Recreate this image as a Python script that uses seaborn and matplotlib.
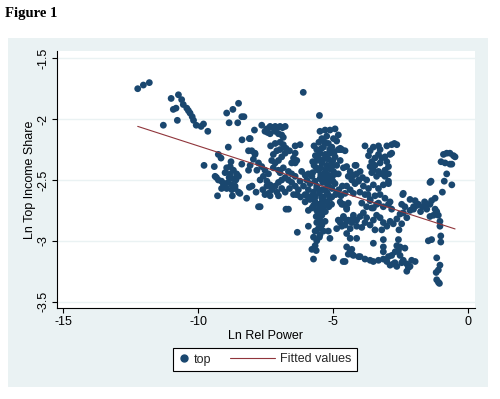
import numpy as np
import pandas as pd
import matplotlib
matplotlib.use("Agg")
import matplotlib.pyplot as plt
import seaborn as sns
from matplotlib.patches import Rectangle
from matplotlib.lines import Line2D
from matplotlib.legend_handler import HandlerBase

sns.set_theme(style="white")
plt.rcParams['font.family'] = ['Liberation Sans', 'DejaVu Sans']

# ---- data (Ln Rel Power, Ln Top Income Share) ----
rel_power = [
    -12.24, -12.03, -11.81, -11.29,
    -11.00, -10.73, -10.61, -10.55, -10.42, -10.36, -10.30, -10.22, -10.17, -10.07, -9.89, -9.80, -9.64, -10.92, -10.82, -10.77,
    -8.94, -8.71, -8.50, -8.85, -8.53, -8.38, -8.30, -8.37, -8.10, -7.91, -8.88, -9.25, -9.15, -9.78, -9.40, -5.50, -6.10,
    -7.64, -7.45, -7.33, -7.14, -6.96, -6.77, -7.52, -7.33, -7.14, -7.02, -6.90, -6.84, -8.07, -7.24, -7.05, -6.87, -7.42,
    -7.31, -7.14, -6.96, -6.84, -6.74, -6.77, -6.90, -7.02, -7.14, -7.27, -7.21, -7.08, -6.96, -6.61, -6.46, -6.53, -6.34, -6.22, -6.40,
    -8.01, -7.89, -7.95, -7.76, -7.64, -7.52, -7.39, -7.58, -7.70, -7.45, -7.33, -7.82, -7.21, -8.07, -8.13,
    -6.16, -6.03, -5.91, -5.78, -5.97, -5.85, -5.66, -6.09, -5.91, -5.72, -5.60, -6.03, -5.78, -6.22,
    -5.48, -5.29, -5.11, -4.92, -4.80, -5.41, -5.23, -4.98, -4.86, -5.17, -5.04, -5.35, -5.60, -5.48, -5.29, -5.11, -4.92, -4.80,
    -4.73, -5.60, -5.41, -5.23, -5.04, -4.86, -5.54, -5.35, -5.17, -4.98, -4.80, -5.48, -5.29, -5.11, -4.92, -5.60, -5.41, -5.23,
    -5.04, -4.86, -5.35, -5.11, -4.67, -4.55, -4.61, -4.49, -4.36, -4.24, -4.12, -4.43, -4.30, -4.18, -4.05, -4.49, -4.36, -4.24, -4.55,
    -5.54, -5.35, -5.17, -5.00, -5.45, -5.27, -5.10, -5.38, -5.20, -5.02, -5.52, -5.30, -5.12, -5.65, -5.70, -5.75,
    -4.73, -4.14, -3.81,
    -7.70, -6.74, -6.65, -7.52, -7.33, -7.02, -6.34, -5.91, -5.78, -5.91, -6.32, -5.66, -5.54, -5.48, -5.41, -5.48, -5.60, -5.54,
    -5.66, -5.72, -5.60, -5.66, -5.78, -5.48, -5.35, -5.41, -5.29, -5.17, -5.72, -5.11, -4.98, -4.55, -4.73, -4.61, -4.49, -4.43,
    -4.80, -4.73, -4.67, -4.86, -4.61, -4.49, -4.36, -4.24, -4.12, -4.36, -4.12, -4.30, -4.43, -4.24, -4.05, -5.97, -5.85, -6.03,
    -5.72, -5.60, -5.41, -5.23, -5.04,
    -5.55, -5.45, -5.62, -5.35, -5.50, -5.62,
    -9.37, -9.25, -9.13, -9.00, -8.88, -8.75, -8.63, -8.94, -8.81, -8.69, -8.57, -8.50, -8.81, -8.69, -8.94, -8.75, -8.63, -8.50,
    -8.45, -9.06, -9.13, -9.28, -8.73, -8.20, -8.10, -8.38, -8.13, -7.89, -7.76, -9.32, -8.85, -8.60, -8.78, -9.00,
    -3.62, -3.50, -3.31, -3.25, -3.31, -3.44, -3.56, -3.62, -3.50, -3.31, -3.19, -3.07, -2.94, -3.00, -3.07, -3.19, -3.25, -2.94,
    -2.88, -3.00, -2.82, -2.63, -2.82, -3.44, -3.38, -3.07, -2.94, -3.68, -3.56,
    -0.90, -0.78, -0.66, -0.53, -0.99, -0.84, -0.66, -0.78, -0.87, -0.59, -0.94, -1.36, -0.47, -0.59, -2.72,
    -2.39, -2.14, -1.95, -1.83, -1.52, -1.34, -1.21, -2.33, -2.01,
    -4.18, -3.99, -4.05, -3.87, -3.68, -3.50, -3.31, -3.13, -2.94, -3.81, -3.62, -3.44, -3.25, -3.07, -2.88, -3.93, -3.75, -3.56, -3.38,
    -4.67, -4.49, -4.61, -4.43, -4.55, -4.30, -4.12, -4.24, -3.99, -3.87, -3.75, -3.81, -3.93, -3.62, -3.50, -3.38, -3.25, -3.13,
    -3.19, -3.44, -3.00, -2.88, -2.76, -2.63, -2.51, -2.39, -2.26, -2.14, -2.01, -1.89, -2.94, -2.82, -3.13, -3.31, -3.50, -3.62,
    -4.49, -3.50, -3.13, -3.13, -3.13, -2.57, -2.45, -4.49, -4.36, -4.30, -3.99, -3.81, -3.62, -3.50, -3.31, -3.13, -2.94, -2.82,
    -2.69, -2.57, -2.51, -2.39, -2.26, -2.14, -2.26, -2.08, -1.95, -2.76, -2.63, -2.88, -3.00, -4.62, -1.46, -1.34, -1.15, -1.09,
    -1.03, -1.03, -1.00, -1.00, -1.15, -1.03, -1.09, -1.17, -1.09, -1.21, -1.27, -1.40, -1.40, -1.52, -1.40, -1.58, -1.05, -1.15,
    -2.41, -2.63, -2.51, -2.33, -2.45, -2.20, -2.70, -1.60, -1.68, -1.75, -2.45, -2.55,
    -7.45, -7.27, -7.14, -7.02, -6.90, -6.77, -6.65, -6.53, -6.61, -6.77, -6.90, -7.08, -6.40, -6.28, -6.46, -6.20, -6.96, -6.84,
    -7.02, -6.65, -6.53, -6.40, -7.60, -7.39, -8.00, -7.85,
    -4.90, -4.78, -4.65, -4.70, -4.00, -3.90, -3.75, -3.70,
    -5.70, -5.75, -5.62, -5.45, -5.28, -5.15, -5.00, -5.50, -5.30, -5.18, -5.40, -5.28, -5.15, -5.05, -5.42, -5.20, -4.95, -5.05,
    -4.90, -5.65, -6.40, -6.40, -6.34, -4.73,
]
top_share = [
    -1.75, -1.72, -1.70, -2.05,
    -1.83, -1.80, -1.84, -1.88, -1.91, -1.93, -1.95, -1.98, -2.01, -2.05, -2.06, -2.04, -2.10, -1.92, -1.91, -2.01,
    -1.95, -1.92, -1.87, -2.03, -2.03, -1.98, -1.98, -2.17, -2.16, -2.09, -2.23, -2.29, -2.32, -2.38, -2.39, -1.97, -1.78,
    -2.05, -2.08, -2.06, -2.06, -2.06, -2.06, -2.10, -2.12, -2.10, -2.12, -2.13, -2.15, -2.16, -2.07, -2.07, -2.07, -2.11,
    -2.22, -2.20, -2.19, -2.21, -2.24, -2.28, -2.31, -2.34, -2.36, -2.34, -2.29, -2.26, -2.25, -2.26, -2.32, -2.36, -2.34, -2.21, -2.22,
    -2.26, -2.29, -2.33, -2.36, -2.39, -2.42, -2.45, -2.47, -2.50, -2.51, -2.54, -2.42, -2.40, -2.38, -2.26,
    -2.43, -2.46, -2.45, -2.47, -2.50, -2.53, -2.51, -2.55, -2.58, -2.60, -2.57, -2.62, -2.63, -2.51,
    -2.10, -2.09, -2.09, -2.08, -2.13, -2.16, -2.14, -2.16, -2.18, -2.20, -2.23, -2.23, -2.25, -2.28, -2.29, -2.28, -2.31, -2.25,
    -2.34, -2.34, -2.36, -2.38, -2.39, -2.38, -2.42, -2.45, -2.46, -2.43, -2.45, -2.49, -2.51, -2.50, -2.53, -2.55, -2.58, -2.60,
    -2.57, -2.60, -2.64, -2.65, -2.25, -2.26, -2.40, -2.39, -2.43, -2.46, -2.45, -2.47, -2.50, -2.53, -2.51, -2.55, -2.58, -2.61, -2.61,
    -2.32, -2.33, -2.33, -2.34, -2.40, -2.42, -2.41, -2.52, -2.54, -2.47, -2.19, -2.19, -2.25, -2.30, -2.38, -2.44,
    -2.24, -2.38, -2.22,
    -2.72, -2.74, -2.74, -2.62, -2.63, -2.63, -2.62, -2.75, -2.73, -2.88, -2.93, -2.68, -2.70, -2.74, -2.79, -2.83, -2.85, -2.90,
    -2.92, -2.97, -3.00, -3.04, -3.07, -2.95, -2.92, -2.87, -2.84, -2.92, -3.15, -2.98, -3.14, -3.17, -2.68, -2.70, -2.73, -2.69,
    -2.83, -2.85, -2.88, -2.90, -2.81, -2.84, -2.90, -2.81, -2.88, -2.98, -2.98, -3.07, -3.11, -3.12, -3.13, -2.63, -2.66, -2.68,
    -2.71, -2.75, -2.65, -2.68, -2.64,
    -2.78, -2.88, -2.80, -2.72, -2.97, -3.08,
    -2.47, -2.50, -2.51, -2.53, -2.52, -2.54, -2.55, -2.40, -2.39, -2.42, -2.45, -2.47, -2.45, -2.49, -2.57, -2.58, -2.57, -2.60,
    -2.61, -2.54, -2.57, -2.63, -2.63, -2.65, -2.56, -2.37, -2.42, -2.28, -2.72, -2.48, -2.48, -2.50, -2.35, -2.44,
    -2.26, -2.23, -2.22, -2.25, -2.29, -2.32, -2.35, -2.39, -2.42, -2.43, -2.45, -2.42, -2.39, -2.35, -2.31, -2.32, -2.36, -2.45,
    -2.29, -2.22, -2.21, -2.21, -2.28, -2.38, -2.47, -2.47, -2.51, -2.30, -2.44,
    -2.29, -2.28, -2.28, -2.30, -2.35, -2.36, -2.37, -2.45, -2.51, -2.54, -2.60, -2.51, -2.31, -2.37, -2.20,
    -2.61, -2.66, -2.67, -2.70, -2.70, -2.67, -2.65, -2.72, -2.72,
    -2.38, -2.43, -2.50, -2.55, -2.57, -2.54, -2.57, -2.54, -2.53, -2.62, -2.66, -2.63, -2.62, -2.65, -2.68, -2.69, -2.72, -2.73, -2.70,
    -2.70, -2.74, -2.80, -2.83, -2.87, -2.85, -2.83, -2.79, -2.80, -2.77, -2.81, -2.85, -2.89, -2.87, -2.83, -2.79, -2.81, -2.85,
    -2.91, -2.91, -2.88, -2.84, -2.86, -2.82, -2.78, -2.77, -2.81, -2.75, -2.74, -2.71, -2.70, -2.74, -2.72, -2.69, -2.73, -2.67,
    -2.94, -3.02, -2.99, -3.05, -3.09, -2.99, -2.70, -3.05, -3.08, -3.11, -3.13, -3.15, -3.16, -3.17, -3.16, -3.15, -3.13, -3.12,
    -3.09, -3.08, -3.12, -3.16, -3.19, -3.21, -3.25, -3.16, -3.17, -3.19, -3.21, -3.20, -3.17, -3.17, -3.00, -2.99, -2.76, -2.79,
    -2.84, -2.88, -2.96, -3.01, -3.14, -3.20, -3.24, -3.26, -3.34, -2.74, -2.79, -2.80, -2.70, -2.74, -2.52, -2.69, -3.35, -3.32,
    -2.62, -3.04, -3.05, -3.06, -3.18, -3.22, -3.18, -2.68, -2.72, -2.76, -2.86, -2.91,
    -2.55, -2.58, -2.55, -2.52, -2.50, -2.48, -2.50, -2.52, -2.57, -2.60, -2.57, -2.60, -2.55, -2.58, -2.62, -2.64, -2.44, -2.40,
    -2.42, -2.43, -2.45, -2.47, -2.58, -2.61, -2.55, -2.60,
    -2.62, -2.58, -2.55, -2.63, -2.60, -2.48, -2.50, -2.62,
    -2.22, -2.35, -2.40, -2.46, -2.47, -2.55, -2.51, -2.61, -2.58, -2.62, -2.68, -2.76, -2.72, -2.70, -2.24, -2.29, -2.27, -2.35,
    -2.45, -2.64, -2.28, -2.36, -2.62, -2.25,
]

# fitted line: y = intercept + slope * x
fit_intercept = -2.936
fit_slope = -0.0716

x_ticks = [-15, -10, -5, 0]
x_tick_labels = ["-15", "-10", "-5", "0"]
y_ticks = [-1.5, -2, -2.5, -3, -3.5]
y_tick_labels = ["-1.5", "-2", "-2.5", "-3", "-3.5"]

navy = "#1A476F"
maroon = "#90353B"
bg = "#EAF2F3"

df = pd.DataFrame({"x": rel_power, "y": top_share})
fit_x = np.array([min(rel_power), max(rel_power)])
fit_df = pd.DataFrame({"x": fit_x, "y": fit_intercept + fit_slope * fit_x})

fig = plt.figure(figsize=(5.0, 3.99), dpi=100)
fig.patch.set_facecolor("white")
fig.patches.append(Rectangle((8 / 500, 1 - 387 / 399), 480 / 500, 349 / 399,
                             transform=fig.transFigure, facecolor=bg,
                             edgecolor="none", zorder=-10))

ax = fig.add_axes([0.1134, 0.2281, 0.8366, 0.6449])
ax.set_zorder(1)
ax.set_facecolor("white")

sns.scatterplot(data=df, x="x", y="y", ax=ax, color=navy, s=24,
                edgecolor="none", linewidth=0, legend=False, zorder=3)
sns.lineplot(data=fit_df, x="x", y="y", ax=ax, color=maroon, lw=0.8, zorder=4)

ax.set_xlim(-15.245, 0.27)
ax.set_ylim(-3.552, -1.4375)
ax.set_xticks(x_ticks)
ax.set_xticklabels(x_tick_labels)
ax.set_yticks(y_ticks)
ax.set_yticklabels(y_tick_labels, rotation=90, va="center")
ax.grid(axis="y", color=bg, lw=1.0)
ax.grid(axis="x", visible=False)
ax.set_axisbelow(True)
for side in ["top", "right"]:
    ax.spines[side].set_visible(False)
for side in ["left", "bottom"]:
    ax.spines[side].set_color("black")
    ax.spines[side].set_linewidth(0.8)
ax.tick_params(axis="both", direction="out", length=3.5, width=0.8,
               labelsize=9, color="black", labelcolor="black", pad=2,
               left=True, bottom=True)

ax.set_xlabel("Ln Rel Power", fontsize=9, color="black", labelpad=1.5)
ax.set_ylabel("Ln Top Income Share", fontsize=9, color="black", labelpad=1)

fig.text(5 / 500, 1 - 13 / 399, "Figure 1", family=["Liberation Serif", "DejaVu Serif"],
         weight="bold", fontsize=10.5, va="center", ha="left", color="black")


class LongLineHandler(HandlerBase):
    """Legend key line that reaches further left than the key box."""
    def __init__(self, extra, **kw):
        super().__init__(**kw)
        self.extra = extra

    def create_artists(self, legend, orig_handle, xdescent, ydescent,
                       width, height, fontsize, trans):
        y = (height - ydescent) / 2.0
        line = Line2D([-xdescent - self.extra * fontsize, width - xdescent], [y, y],
                      color=orig_handle.get_color(), lw=orig_handle.get_linewidth())
        line.set_transform(trans)
        return [line]


dot_handle = Line2D([], [], marker="o", ls="", color=navy, markersize=5)
fit_handle = Line2D([], [], color=maroon, lw=0.8)
leg = fig.legend([dot_handle, fit_handle], ["top", "Fitted values"], loc="center",
                 bbox_to_anchor=(265 / 500, 1 - 359.5 / 399), ncol=2,
                 handler_map={fit_handle: LongLineHandler(2.8)},
                 frameon=True, fancybox=False, edgecolor="black", framealpha=1.0,
                 fontsize=9, handlelength=0.8, columnspacing=4.3,
                 handletextpad=0.4, borderpad=0.45, borderaxespad=0)
leg.get_frame().set_linewidth(0.8)
leg.get_frame().set_facecolor("white")

fig.savefig("out.png", dpi=100)
